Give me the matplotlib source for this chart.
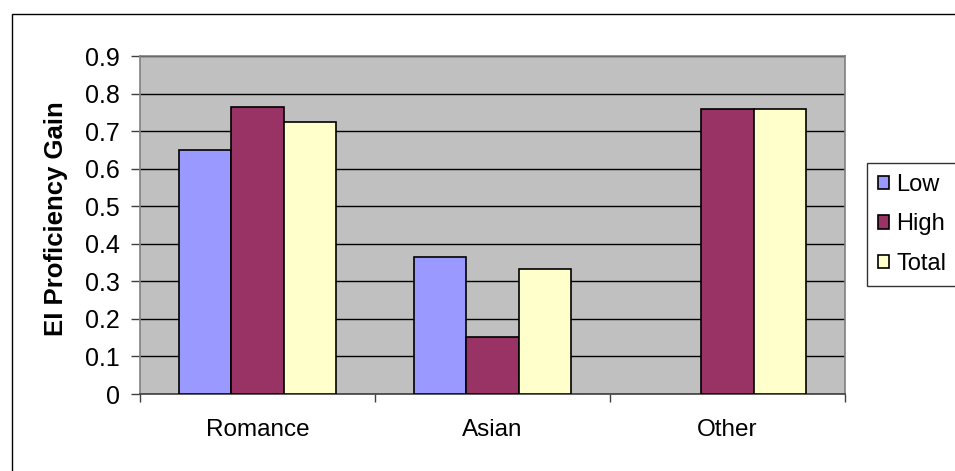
import numpy as np
import matplotlib
matplotlib.use("Agg")
import matplotlib.pyplot as plt
from matplotlib.patches import Rectangle

categories = ["Romance", "Asian", "Other"]
series_names = ["Low", "High", "Total"]
low = [0.65, 0.366, np.nan]
high = [0.765, 0.153, 0.76]
total = [0.723, 0.334, 0.76]
y_ticks = [0, 0.1, 0.2, 0.3, 0.4, 0.5, 0.6, 0.7, 0.8, 0.9]
y_tick_labels = ["0", "0.1", "0.2", "0.3", "0.4", "0.5", "0.6", "0.7", "0.8", "0.9"]
colors = ["#9999FF", "#993366", "#FFFFCC"]

plt.rcParams['font.family'] = ['Liberation Sans', 'DejaVu Sans']

W, H = 955, 471
fig = plt.figure(figsize=(W / 100, H / 100), dpi=100)

# outer chart frame
fig.patches.append(Rectangle((12 / W, 0 - 0.05), 1.1, 1 - 14 / H + 0.05,
                             transform=fig.transFigure, fill=False,
                             edgecolor="black", linewidth=1.0, zorder=0))

ax = fig.add_axes([140 / W, 1 - 394 / H, (845 - 140) / W, (394 - 56) / H])
ax.set_facecolor("#C0C0C0")

x = np.arange(len(categories))
bw = 1 / 4.5
data = [low, high, total]
handles = []
for i, (vals, name, c) in enumerate(zip(data, series_names, colors)):
    b = ax.bar(x + (i - 1) * bw, vals, width=bw, color=c, edgecolor="black",
               linewidth=1.2, label=name, zorder=3)
    handles.append(b)

ax.set_xlim(-0.5, 2.5)
ax.set_ylim(0, 0.9)
ax.set_yticks(y_ticks)
ax.set_yticklabels(y_tick_labels, fontsize=18)
ax.yaxis.grid(True, color="black", linewidth=1.0, zorder=1)
ax.set_axisbelow(True)

ax.set_xticks(x)
ax.set_xticklabels(categories, fontsize=17.5)
ax.tick_params(axis="x", which="major", length=0, pad=18)
ax.set_xticks([-0.5, 0.5, 1.5, 2.5], minor=True)
ax.tick_params(axis="x", which="minor", length=6, width=1, color="#404040")
ax.tick_params(axis="y", length=6.5, width=1, color="#404040", pad=8)

for s in ["left", "right", "top"]:
    ax.spines[s].set_color("#808080")
    ax.spines[s].set_linewidth(1.2)
ax.spines["bottom"].set_color("#404040")
ax.spines["bottom"].set_linewidth(1.2)

ax.set_ylabel("EI Proficiency Gain", fontsize=18.5, fontweight="bold", labelpad=12)
ax.yaxis.label.set_y(0.52)

leg = fig.legend(handles=handles, labels=series_names, loc="upper left",
                 bbox_to_anchor=(867 / W, 1 - 163 / H), frameon=True,
                 fancybox=False, edgecolor="black", fontsize=17,
                 handlelength=0.5, handleheight=0.5, handletextpad=0.3,
                 labelspacing=0.75, borderpad=0.45, borderaxespad=0)
leg.get_frame().set_linewidth(1.0)

fig.savefig("out.png", dpi=100)
